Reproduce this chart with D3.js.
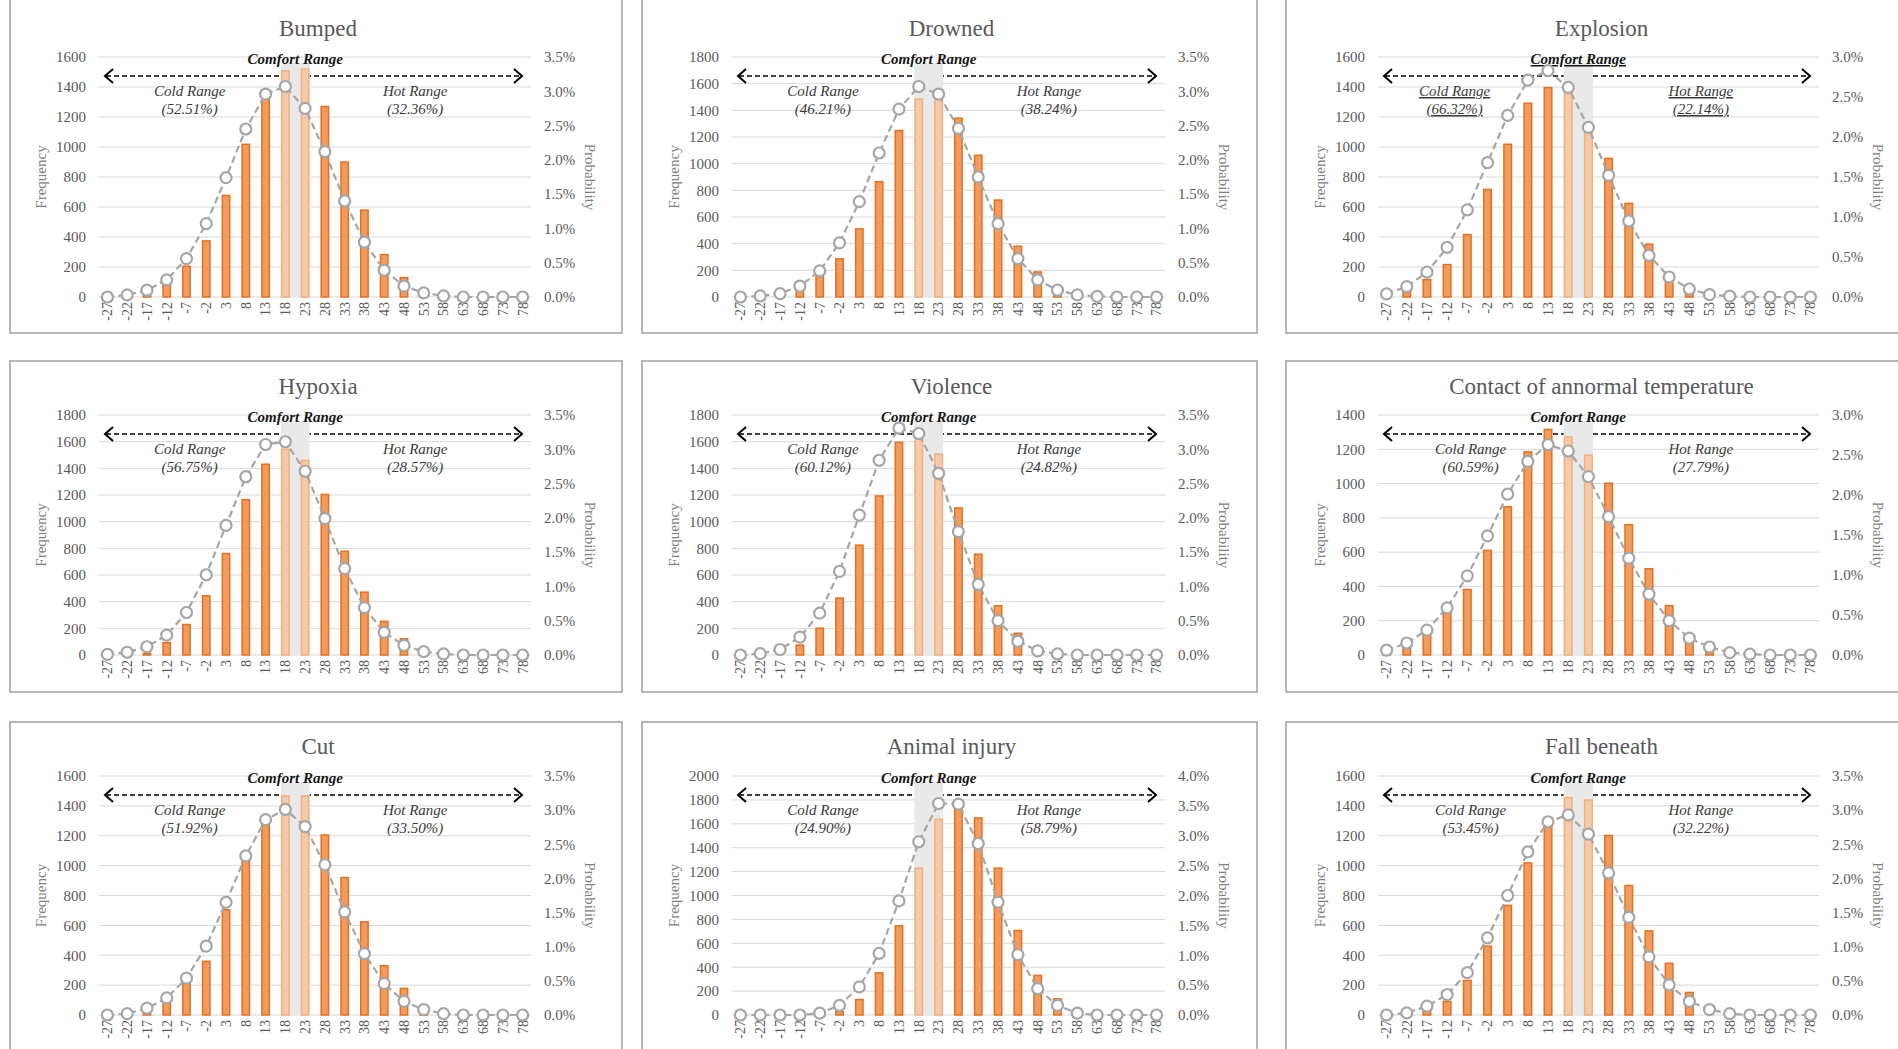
<!DOCTYPE html>
<html>
<head>
<meta charset="utf-8">
<script src="https://cdn.jsdelivr.net/npm/d3@7"></script>
<style>
  html, body { margin: 0; padding: 0; background: #fff; }
  svg { display: block; font-family: "Liberation Serif", "Times New Roman", serif; }
</style>
</head>
<body>
<svg id="chart" width="1898" height="1049"></svg>
<script>
// Temperature bins (°C) shared by every panel
const temps = ["-27","-22","-17","-12","-7","-2","3","8","13","18","23","28","33","38","43","48","53","58","63","68","73","78"];
const comfortTemps = ["18", "23"];

// Accident types, one panel each
const titles = ["Bumped", "Drowned", "Explosion", "Hypoxia", "Violence",
  "Contact of annormal temperature", "Cut", "Animal injury", "Fall beneath"];

// Axis maxima per panel
const freqMax = [1600, 1800, 1600, 1800, 1800, 1400, 1600, 2000, 1600];
const probMax = [3.5, 3.5, 3.0, 3.5, 3.5, 3.0, 3.5, 4.0, 3.5];

// Share of cases outside the comfort range
const coldShare = ["52.51%", "46.21%", "66.32%", "56.75%", "60.12%", "60.59%", "51.92%", "24.90%", "53.45%"];
const hotShare  = ["32.36%", "38.24%", "22.14%", "28.57%", "24.82%", "27.79%", "33.50%", "58.79%", "32.22%"];

// Frequency per temperature bin
const bumpedFreq    = [0,0,20,90,205,374,677,1018,1350,1508,1519,1270,900,579,283,129,10,0,0,0,0,0];
const drownedFreq   = [0,0,0,50,155,286,511,865,1248,1484,1500,1341,1063,727,381,188,30,0,0,0,0,0];
const explosionFreq = [0,45,116,216,416,717,1018,1292,1396,1380,1120,924,624,352,100,22,0,0,0,0,0,0];
const hypoxiaFreq   = [0,0,10,92,229,444,761,1165,1431,1543,1460,1204,778,471,252,122,10,0,0,0,0,0];
const violenceFreq  = [0,0,0,75,201,427,824,1193,1595,1640,1507,1103,756,369,163,10,0,0,0,0,0,0];
const contactFreq   = [10,49,123,250,382,610,864,1185,1316,1271,1166,1002,760,503,288,80,15,0,0,0,0,0];
const cutFreq       = [0,0,10,80,214,359,704,1038,1272,1466,1466,1205,920,624,330,178,10,0,0,0,0,0];
const animalFreq    = [0,0,0,0,0,30,129,353,746,1229,1638,1730,1649,1229,707,331,135,0,0,0,0,0];
const fallFreq      = [0,0,30,91,231,461,734,1018,1273,1455,1439,1202,867,563,346,151,0,0,0,0,0,0];

// Probability (%) per temperature bin
const bumpedProb    = [0,0.03,0.10,0.25,0.56,1.07,1.74,2.45,2.96,3.07,2.75,2.12,1.40,0.80,0.39,0.16,0.06,0.015,0,0,0,0];
const drownedProb   = [0,0.015,0.05,0.16,0.38,0.79,1.39,2.10,2.74,3.07,2.96,2.46,1.75,1.07,0.56,0.25,0.10,0.03,0.01,0,0,0];
const explosionProb = [0.04,0.13,0.31,0.62,1.09,1.68,2.27,2.71,2.83,2.62,2.12,1.52,0.95,0.52,0.25,0.10,0.03,0.01,0,0,0,0];
const hypoxiaProb   = [0.01,0.04,0.12,0.29,0.62,1.17,1.89,2.60,3.07,3.11,2.68,1.99,1.26,0.69,0.33,0.14,0.05,0.015,0,0,0,0];
const violenceProb  = [0,0.02,0.08,0.26,0.61,1.22,2.04,2.84,3.31,3.23,2.65,1.80,1.03,0.50,0.20,0.06,0.015,0,0,0,0,0];
const contactProb   = [0.06,0.15,0.31,0.59,0.99,1.49,2.01,2.42,2.63,2.55,2.23,1.73,1.21,0.76,0.43,0.21,0.10,0.03,0.01,0,0,0];
const cutProb       = [0,0.02,0.10,0.25,0.54,1.01,1.65,2.33,2.86,3.01,2.76,2.20,1.51,0.90,0.46,0.20,0.08,0.02,0,0,0,0];
const animalProb    = [0,0,0,0,0.03,0.16,0.47,1.03,1.91,2.90,3.54,3.53,2.87,1.89,1.01,0.44,0.16,0.03,0,0,0,0];
const fallProb      = [0,0.03,0.13,0.30,0.62,1.13,1.75,2.39,2.83,2.93,2.65,2.08,1.43,0.85,0.44,0.20,0.08,0.02,0,0,0,0];

const freqSeries = [bumpedFreq, drownedFreq, explosionFreq, hypoxiaFreq, violenceFreq, contactFreq, cutFreq, animalFreq, fallFreq];
const probSeries = [bumpedProb, drownedProb, explosionProb, hypoxiaProb, violenceProb, contactProb, cutProb, animalProb, fallProb];

// ---- layout of the 3x3 grid ----
const colFrames = [[10, 622], [642, 1257], [1286, 1915]];
const colPlots  = [[99, 531], [732, 1165], [1378, 1819]];
const rowFrames = [[-5, 333], [361, 692], [722, 1060]];
const rowPlots  = [[57, 297], [415, 655], [776, 1015]];
const rowTitles = [28, 386, 746];
const underlinedPanels = new Set(["Explosion"]);
const coldLabelShift = { "Explosion": -16 };

const C = {
  frame: "#a0a0a0", grid: "#d9d9d9", tick: "#595959", axisTitle: "#808080",
  bar: "#f19c5e", barStroke: "#e3711f", barLight: "#f6c9a8", barLightStroke: "#efb083",
  band: "#e9e9e9", line: "#a6a6a6", note: "#3a3a3a", strong: "#151515"
};

const svg = d3.select("#chart");

function drawPanel(i) {
  const r = Math.floor(i / 3), c = i % 3;
  const name = titles[i];
  const g = svg.append("g");
  const [fx0, fx1] = colFrames[c], [fy0, fy1] = rowFrames[r];
  const [px0, px1] = colPlots[c], [py0, py1] = rowPlots[r];
  const under = underlinedPanels.has(name) ? "underline" : null;

  g.append("rect")
    .attr("x", fx0).attr("y", fy0).attr("width", fx1 - fx0).attr("height", fy1 - fy0)
    .attr("fill", "none").attr("stroke", C.frame).attr("stroke-width", 1.5);

  const x = d3.scaleBand().domain(temps).range([px0, px1]).paddingInner(0.55).paddingOuter(0.2);
  const bw = x.bandwidth();
  const yL = d3.scaleLinear().domain([0, freqMax[i]]).range([py1, py0]);
  const yR = d3.scaleLinear().domain([0, probMax[i]]).range([py1, py0]);
  const leftTicks = d3.range(0, freqMax[i] + 1, 200);
  const rightTicks = d3.range(0, probMax[i] + 0.001, 0.5);

  // title
  g.append("text").attr("x", (px0 + px1) / 2 + 3).attr("y", rowTitles[r] + 8)
    .attr("text-anchor", "middle").attr("font-size", 23).attr("fill", C.tick).text(name);

  // gridlines
  g.append("g").selectAll("line").data(leftTicks).join("line")
    .attr("x1", px0).attr("x2", px1).attr("y1", d => yL(d)).attr("y2", d => yL(d))
    .attr("stroke", C.grid).attr("stroke-width", 1);

  // left axis
  const axL = g.append("g").attr("transform", `translate(${px0},0)`)
    .call(d3.axisLeft(yL).tickValues(leftTicks).tickSize(0).tickPadding(13).tickFormat(d3.format("d")));
  axL.select(".domain").remove();
  axL.attr("font-family", null).attr("font-size", 15);
  axL.selectAll("text").attr("fill", C.tick);

  // right axis
  const axR = g.append("g").attr("transform", `translate(${px1},0)`)
    .call(d3.axisRight(yR).tickValues(rightTicks).tickSize(0).tickPadding(13).tickFormat(d => d.toFixed(1) + "%"));
  axR.select(".domain").remove();
  axR.attr("font-family", null).attr("font-size", 15);
  axR.selectAll("text").attr("fill", C.tick);

  // bottom axis with vertical labels
  const axB = g.append("g").attr("transform", `translate(0,${py1})`)
    .call(d3.axisBottom(x).tickSize(0));
  axB.select(".domain").remove();
  axB.attr("font-family", null).attr("font-size", 14);
  axB.selectAll("text").attr("fill", C.tick)
    .attr("transform", "rotate(-90)").attr("text-anchor", "end")
    .attr("x", -5).attr("y", 0).attr("dy", "0.35em");

  // axis titles
  const midY = (py0 + py1) / 2;
  g.append("text").attr("transform", `translate(${px0 - 58},${midY}) rotate(-90)`)
    .attr("text-anchor", "middle").attr("dy", "0.35em").attr("font-size", 15)
    .attr("fill", C.axisTitle).text("Frequency");
  g.append("text").attr("transform", `translate(${px1 + 59},${midY}) rotate(90)`)
    .attr("text-anchor", "middle").attr("dy", "0.35em").attr("font-size", 15)
    .attr("fill", C.axisTitle).text("Probability");

  // double-headed dashed range arrow
  const ay = py0 + 19, ax0 = px0 + 6, ax1 = px1 - 9;
  g.append("line").attr("x1", ax0 + 1).attr("x2", ax1 - 1).attr("y1", ay).attr("y2", ay)
    .attr("stroke", "#000").attr("stroke-width", 1.6).attr("stroke-dasharray", "5,3");
  g.append("path").attr("d", `M${ax0 + 8},${ay - 7}L${ax0},${ay}L${ax0 + 8},${ay + 7}`)
    .attr("fill", "none").attr("stroke", "#000").attr("stroke-width", 2);
  g.append("path").attr("d", `M${ax1 - 8},${ay - 7}L${ax1},${ay}L${ax1 - 8},${ay + 7}`)
    .attr("fill", "none").attr("stroke", "#000").attr("stroke-width", 2);

  // comfort band
  const bx0 = x(comfortTemps[0]), bx1 = x(comfortTemps[1]) + bw;
  g.append("rect").attr("x", bx0).attr("y", py0 + 6).attr("width", bx1 - bx0).attr("height", py1 - py0 - 6)
    .attr("fill", C.band);

  // range notes
  g.append("text").attr("x", (bx0 + bx1) / 2).attr("y", py0 + 7)
    .attr("text-anchor", "middle").attr("font-size", 15).attr("font-weight", "bold").attr("font-style", "italic")
    .attr("fill", C.strong).attr("text-decoration", under).text("Comfort Range");
  const cx = px0 + (px1 - px0) * 0.21 + (coldLabelShift[name] || 0);
  const hx = px0 + (px1 - px0) * 0.732;
  [[cx, "Cold Range", coldShare[i]], [hx, "Hot Range", hotShare[i]]].forEach(([tx, label, share]) => {
    g.append("text").attr("x", tx).attr("y", py0 + 39).attr("text-anchor", "middle")
      .attr("font-size", 15).attr("font-style", "italic").attr("fill", C.note)
      .attr("text-decoration", under).text(label);
    g.append("text").attr("x", tx).attr("y", py0 + 57).attr("text-anchor", "middle")
      .attr("font-size", 15).attr("font-style", "italic").attr("fill", C.note)
      .attr("text-decoration", under).text(`(${share})`);
  });

  // frequency bars
  const rows = temps.map((t, k) => ({ t, f: freqSeries[i][k], p: probSeries[i][k] }));
  const inComfort = t => comfortTemps.includes(t);
  g.append("g").selectAll("rect").data(rows.filter(d => d.f > 0)).join("rect")
    .attr("x", d => x(d.t) + 0.75).attr("width", bw - 1.5)
    .attr("y", d => yL(d.f)).attr("height", d => py1 - yL(d.f))
    .attr("fill", d => inComfort(d.t) ? C.barLight : C.bar)
    .attr("stroke", d => inComfort(d.t) ? C.barLightStroke : C.barStroke)
    .attr("stroke-width", 1.5);

  // probability line with hollow markers
  const line = d3.line().x(d => x(d.t) + bw / 2).y(d => yR(d.p));
  g.append("path").datum(rows).attr("d", line)
    .attr("fill", "none").attr("stroke", C.line).attr("stroke-width", 2.2).attr("stroke-dasharray", "7,4");
  g.append("g").selectAll("circle").data(rows).join("circle")
    .attr("cx", d => x(d.t) + bw / 2).attr("cy", d => yR(d.p)).attr("r", 5.5)
    .attr("fill", "#fff").attr("stroke", C.line).attr("stroke-width", 2.2);
}

titles.forEach((_, i) => drawPanel(i));
</script>
</body>
</html>
